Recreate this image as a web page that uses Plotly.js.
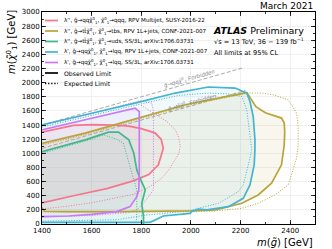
<!DOCTYPE html>
<html><head><meta charset="utf-8">
<script src="https://cdn.plot.ly/plotly-3.0.1.min.js"></script>
<style>html,body{margin:0;padding:0;background:#fff}</style>
</head><body><div id="chart" style="width:332px;height:249px"></div>
<script>
// ---------------- data (GeV) ----------------
const pinkObsX = [1350,1400,1527,1661,1768,1830,1869,1889,1880,1855,1800,1750,1700,1600,1527,1450,1400,1350];
const pinkObsY = [280,300,400,500,610,700,837,1073,1200,1290,1350,1385,1400,1405,1395,1340,1300,1250];
const pinkExpX = [1350,1400,1500,1600,1700,1768,1830,1880,1910,1935,1952,1957,1950,1937,1900,1849,1820,1795];
const pinkExpY = [195,210,250,300,370,420,520,640,760,900,1000,1100,1230,1333,1460,1570,1640,1690];

const goldObsX = [1350,1400,1410,1500,1700,1900,2000,2100,2151,2205,2271,2325,2365,2376,2378,2376,2365,2300,2262,2225,1977,1574,1400,1350];
const goldObsY = [230,227,180,175,175,178,185,200,245,293,411,577,837,1120,1300,1428,1499,1575,1660,1860,1687,1286,1140,1100];
const goldExpX = [1350,1400,1600,1800,2000,2100,2205,2271,2338,2392,2426,2432,2432,2426,2392,2330,2285,2230,1977,1574,1400,1350];
const goldExpY = [168,168,165,165,172,185,222,293,411,553,932,1120,1380,1570,1758,1830,1853,1853,1670,1265,1115,1075];

const greenObsX = [1350,1400,1574,1668,1708,1750,1770,1778,1782,1795,1816,1802,1809,1809,1350];
const greenObsY = [960,1025,1191,1300,1300,1191,1000,870,766,648,482,293,100,-50,-50];
const greenExpX = [1350,1400,1500,1600,1648,1700,1728,1742,1752,1762,1782,1782,1776];
const greenExpY = [950,1000,1100,1200,1262,1200,1144,954,830,719,482,80,0];

const blueObsX = [1350,1400,1574,1783,1937,2070,2178,2225,2238,2251,2258,2258,2255,2238,2211,2151,2064,2030,2003,1997,1889,1836,1700,1400,1350];
const blueObsY = [1360,1403,1546,1717,1853,1939,1924,1853,1734,1522,1200,1049,837,553,364,245,199,210,175,151,113,24,24,24,24];
const blueExpX = [1350,1400,1600,1800,1950,2070,2150,2205,2225,2240,2245,2238,2211,2191,2111,2003,1900,1822,1700,1400,1350];
const blueExpY = [1330,1370,1540,1700,1820,1853,1840,1805,1617,1200,1050,932,553,458,293,199,150,128,60,40,38];

const violetObsX = [1350,1400,1574,1775,1792,1792,1790,1782,1755,1701,1600,1507,1400,1350];
const violetObsY = [1290,1333,1475,1640,1590,700,482,387,246,175,135,113,104,100];
const violetExpX = [1350,1400,1600,1795,1842,1849,1849,1849,1809,1782,1740,1600,1400,1350];
const violetExpY = [1350,1390,1560,1745,1711,1600,900,482,293,199,160,120,100,98];

const qqLineX = [1400, 2210];
const qqLineY = [1400, 2210];
const ttLineX = [1400, 2220];
const ttLineY = [1070, 1890];

const xTickVals = [1400,1600,1800,2000,2200,2400];
const yTickVals = [0,200,400,600,800,1000,1200,1400,1600,1800,2000,2200,2400,2600,2800,3000];

const seriesLabels = [
  "λ'', g̃→qqχ̃<sup>0</sup><sub>1</sub>, χ̃<sup>0</sup><sub>1</sub>→qqq, RPV Multijet, SUSY-2016-22",
  "λ'', g̃→tt̄χ̃<sup>0</sup><sub>1</sub>, χ̃<sup>0</sup><sub>1</sub>→tbs, RPV 1L+jets, CONF-2021-007",
  "λ'', g̃→tt̄χ̃<sup>0</sup><sub>1</sub>, χ̃<sup>0</sup><sub>1</sub>→uds, SS/3L, arXiv:1706.03731",
  "λ', g̃→qqχ̃<sup>0</sup><sub>1</sub>, χ̃<sup>0</sup><sub>1</sub>→lqq, RPV 1L+jets, CONF-2021-007",
  "λ', g̃→qqχ̃<sup>0</sup><sub>1</sub>, χ̃<sup>0</sup><sub>1</sub>→lqq, SS/3L, arXiv:1706.03731"
];
const colors = ['#f7768e','#b8a53a','#3fb98a','#44b4d0','#cc78f6'];
const fills  = ['rgba(247,118,142,0.07)','rgba(184,165,58,0.09)','rgba(63,185,138,0.07)','rgba(68,180,208,0.08)','rgba(204,120,246,0.07)'];

// ---------------- traces ----------------
const obsX = [pinkObsX, goldObsX, greenObsX, blueObsX, violetObsX];
const obsY = [pinkObsY, goldObsY, greenObsY, blueObsY, violetObsY];
const expX = [pinkExpX, goldExpX, greenExpX, blueExpX, violetExpX];
const expY = [pinkExpY, goldExpY, greenExpY, blueExpY, violetExpY];
const DOT = '1px,1.6px';

const traces = [];
for (let i = 0; i < 5; i++) {
  traces.push({type:'scatter', mode:'lines', x: obsX[i], y: obsY[i], fill:'toself',
    fillcolor: fills[i], line:{width:0}, hoverinfo:'skip', showlegend:false});
}
traces.push({type:'scatter', mode:'lines', x: qqLineX, y: qqLineY,
  line:{color:'#a0a0a0', width:0.9, dash:'4px,2px'}, showlegend:false, hoverinfo:'skip'});
traces.push({type:'scatter', mode:'lines', x: ttLineX, y: ttLineY,
  line:{color:'#a0a0a0', width:0.9, dash:'4px,2px'}, showlegend:false, hoverinfo:'skip'});
for (let i = 0; i < 5; i++) {
  traces.push({type:'scatter', mode:'lines', x: expX[i], y: expY[i],
    line:{color: colors[i], width:1, dash: DOT}, hoverinfo:'skip', showlegend:false});
}
for (let i = 0; i < 5; i++) {
  traces.push({type:'scatter', mode:'lines', x: obsX[i], y: obsY[i],
    line:{color: colors[i], width:1.7}, hoverinfo:'skip', showlegend:false});
}

// ---------------- layout helpers ----------------
const M = {l:42, r:17, t:12, b:25};
const W = 332, H = 249;
const pw = W - M.l - M.r, ph = H - M.t - M.b;
const px = v => (v - M.l) / pw;          // pixel x -> paper
const py = v => (H - M.b - v) / ph;       // pixel y -> paper

const shapes = [];
const annotations = [];
const rowY = [20.5, 31, 41.5, 52, 62.5, 73, 83.5];
const legendTexts = seriesLabels.concat(['Observed Limit','Expected Limit']);
const legendColors = colors.concat(['#000','#000']);
for (let i = 0; i < 7; i++) {
  shapes.push({type:'line', xref:'paper', yref:'paper', x0: px(45), x1: px(58), y0: py(rowY[i]), y1: py(rowY[i]),
    line:{color: legendColors[i], width: i < 6 ? 1.7 : 1.3, dash: i === 6 ? '1.3px,1.8px' : 'solid'}});
  annotations.push({xref:'paper', yref:'paper', x: px(62), y: py(rowY[i]), xanchor:'left', yanchor:'middle',
    text: legendTexts[i], showarrow:false, font:{size: i < 5 ? 5.6 : 6.2, color:'#000'}});
}
annotations.push({xref:'paper', yref:'paper', x:1, y: py(6), xanchor:'right', yanchor:'middle',
  text:'March 2021', showarrow:false, font:{size:9, color:'#000'}});
annotations.push({xref:'paper', yref:'paper', x: px(211), y: py(30.5), xanchor:'left', yanchor:'middle',
  text:'<b><i>ATLAS</i></b> Preliminary', showarrow:false, font:{size:9.5, color:'#000'}});
annotations.push({xref:'paper', yref:'paper', x: px(212), y: py(41.7), xanchor:'left', yanchor:'middle',
  text:'√s = 13 TeV, 36 − 139 fb<sup>−1</sup>', showarrow:false, font:{size:6.6, color:'#000'}});
annotations.push({xref:'paper', yref:'paper', x: px(212), y: py(52.5), xanchor:'left', yanchor:'middle',
  text:'All limits at 95% CL', showarrow:false, font:{size:6.6, color:'#000'}});
annotations.push({xref:'paper', yref:'paper', x:1, y: py(242), xanchor:'right', yanchor:'middle',
  text:'<i>m</i>(<i>g̃</i>) [GeV]', showarrow:false, font:{size:10, color:'#000'}});
annotations.push({xref:'paper', yref:'paper', x: px(12), y: py(8), xanchor:'center', yanchor:'top', textangle:-90,
  text:'<i>m</i>(<i>χ̃</i><sup>0</sup><sub>1</sub>) [GeV]', showarrow:false, font:{size:10, color:'#000'}});
annotations.push({x:1995, y:2062, xref:'x', yref:'y', textangle:-15.8, showarrow:false,
  text:'<i>g̃→qqχ̃<sup>0</sup><sub>1</sub> Forbidden</i>', font:{size:5.5, color:'#8a8a8a'}});
annotations.push({x:2005, y:1725, xref:'x', yref:'y', textangle:-15.8, showarrow:false,
  text:'<i>g̃→tt̄χ̃<sup>0</sup><sub>1</sub> Forbidden</i>', font:{size:5.5, color:'#8a8a8a'}});

const axisCommon = {showline:true, linecolor:'#000', linewidth:1, mirror:'allticks', ticks:'inside', ticklen:4,
  tickcolor:'#000', tickwidth:0.8, showgrid:true, gridcolor:'#ececec', gridwidth:0.8, zeroline:false,
  tickfont:{size:7, color:'#000'}, minor:{dtick:100, ticks:'inside', ticklen:2, tickcolor:'#000', showgrid:false}};

const layout = {
  width: W, height: H, margin: M, paper_bgcolor:'#fff', plot_bgcolor:'#fff',
  font:{family:'DejaVu Sans', color:'#000'},
  showlegend:false,
  xaxis: Object.assign({}, axisCommon, {range:[1400,2500], tickvals: xTickVals, ticktext: xTickVals.map(String)}),
  yaxis: Object.assign({}, axisCommon, {range:[0,3000], tickvals: yTickVals, ticktext: yTickVals.map(String)}),
  shapes, annotations
};
Plotly.newPlot('chart', traces, layout, {staticPlot:true, displayModeBar:false});
</script></body></html>
